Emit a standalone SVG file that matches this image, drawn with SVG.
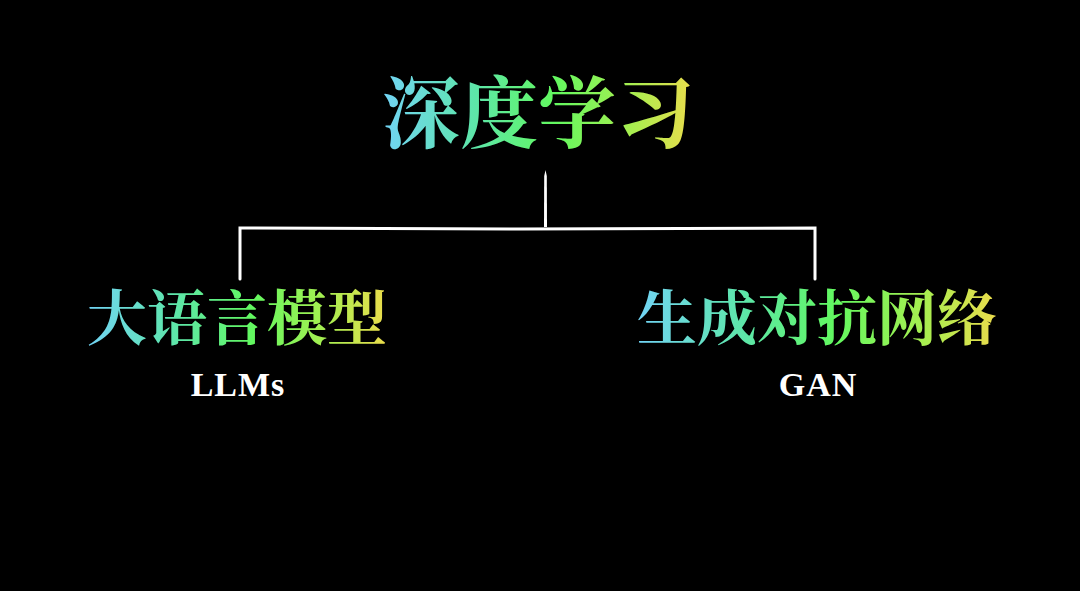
<svg xmlns="http://www.w3.org/2000/svg" width="1080" height="591" viewBox="0 0 1080 591">
<defs>
<linearGradient id="grad" x1="0" y1="0" x2="1" y2="0">
<stop offset="0" stop-color="#72d4f6"/>
<stop offset="0.3" stop-color="#5de6a8"/>
<stop offset="0.55" stop-color="#62f860"/>
<stop offset="0.8" stop-color="#a8ee50"/>
<stop offset="1" stop-color="#ecdc4c"/>
</linearGradient>
<style>
.cjk{font-family:"Noto Serif CJK SC","Noto Sans CJK SC",serif;font-weight:bold;fill:url(#grad);text-anchor:middle}
.en{font-family:"Liberation Serif",serif;font-weight:bold;fill:#ffffff;text-anchor:middle;font-size:34px;letter-spacing:1px}
.ln{fill:none;stroke:#ffffff;stroke-width:3;stroke-linecap:round;stroke-linejoin:miter}
</style>
</defs>
<rect x="0" y="0" width="1080" height="591" fill="#000000"/>
<g id="connectors">
<path class="ln" d="M240,279 L240,228 L520,229 L815,228 L815,279"/>
<polygon points="544,227 547,227 546.8,176 545.5,170 544.2,176" fill="#ffffff"/>
</g>
<g id="root">
<text class="cjk" x="538" y="142" font-size="78">深度学习</text>
</g>
<g id="llm">
<text class="cjk" x="237" y="340" font-size="60">大语言模型</text>
<text class="en" x="238" y="396">LLMs</text>
</g>
<g id="gan">
<text class="cjk" x="817" y="340" font-size="60">生成对抗网络</text>
<text class="en" x="818" y="396">GAN</text>
</g>
</svg>
